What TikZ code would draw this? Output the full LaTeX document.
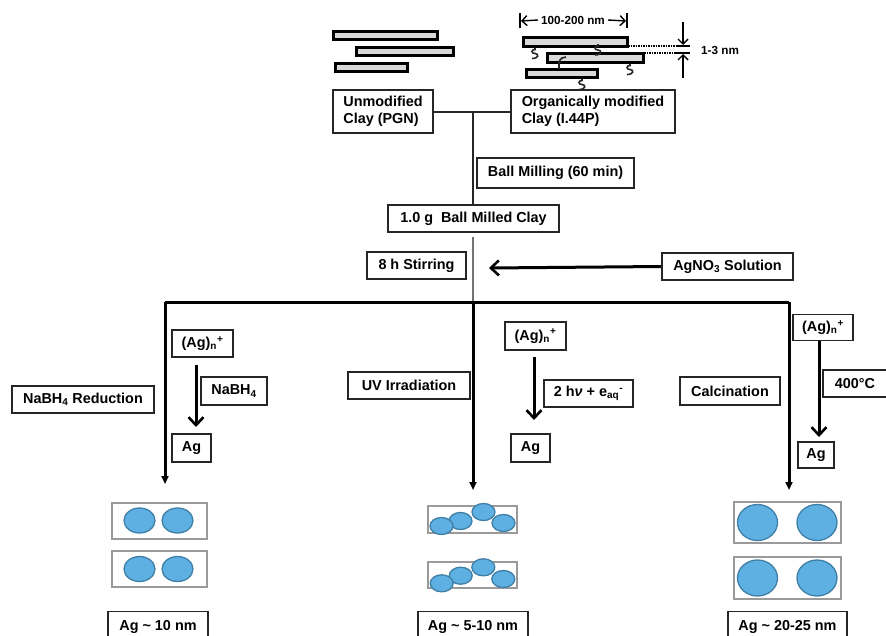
\documentclass[tikz,border=0pt]{standalone}
\usepackage{fontspec}
\setmainfont{Liberation Sans}
\usetikzlibrary{arrows.meta}
\definecolor{agblue}{HTML}{5FB0E2}
\definecolor{agedge}{HTML}{3F7FA6}
\definecolor{holdergray}{HTML}{9A9A9A}
\begin{document}
\begin{tikzpicture}[x=1pt,y=-1pt,
  lbl/.style={draw=black!85, line width=1.8pt, inner sep=0pt, align=center,
    font=\fontsize{14.4}{17}\selectfont\bfseries},
  small/.style={font=\fontsize{11.7}{14}\selectfont\bfseries, inner sep=1pt},
  plate/.style={draw=black, line width=3pt, fill=black!15},
  feed/.style={line width=3pt, -{Triangle[length=8pt,width=7pt]}},
  react/.style={line width=3pt, -{Straight Barb[length=8pt,width=15pt,line width=2.6pt]}},
  dimline/.style={line width=1.5pt},
  dimarrow/.style={line width=1.4pt, -{Straight Barb[length=5pt,width=10pt,line width=1.4pt]}},
  holder/.style={draw=holdergray, line width=1.8pt},
  particle/.style={fill=agblue, draw=agedge, line width=1.3pt},
  surfchain/.pic={\draw[line width=1.6pt, black!85] (0,0) -- (0,2)
      .. controls (-4,2) and (-4,6) .. (0,6)
      .. controls (4,6) and (4,11) .. (-3,11);},
]
\clip (0,0) rectangle (886,635);
\fill[white] (0,0) rectangle (886,635);

% ---- stacked clay platelets ----
\draw[plate] (333,31) rectangle (437,39);
\draw[plate] (356,47) rectangle (453,55);
\draw[plate] (335,63) rectangle (407,71);

\draw[plate] (523,37) rectangle (627,46);
\draw[plate] (547,53) rectangle (643,62);
\draw[plate] (526,69) rectangle (597,77);
\pic at (535,47.5) {surfchain};
\pic at (598,44) {surfchain};
\pic at (630,63.5) {surfchain};
\pic at (582,78.5) {surfchain};
\draw[line width=1.6pt, black!85] (559,62) -- (559,69);
\draw[line width=1.6pt, black!85] (559,63) .. controls (560,58) and (563,57) .. (566,57);

% interlayer spacing
\draw[dimline, densely dotted] (628,46) -- (676,46);
\draw[dimline, densely dotted] (644,53) -- (676,53);
\draw[dimline] (676,46) -- (690,46);
\draw[dimline] (676,53) -- (690,53);
\coordinate (gapTop) at (683,22);
\coordinate (gapTopEnd) at (683,45);
\coordinate (gapBot) at (683,78);
\coordinate (gapBotEnd) at (683,54);
\draw[dimarrow] (gapTop) -- (gapTopEnd);
\draw[dimarrow] (gapBot) -- (gapBotEnd);
\node[small, anchor=west] (gap) at (700,50) {1-3 nm};

% platelet length
\draw[dimline] (520,13) -- (520,28);
\draw[dimline] (627,13) -- (627,28);
\node[small, inner xsep=3pt] (len) at (573,20) {100-200 nm};
\coordinate (lenL) at (521,21);
\coordinate (lenR) at (626,21);
\draw[dimarrow] (len.west) -- (lenL);
\draw[dimarrow] (len.east) -- (lenR);

% ---- process boxes ----
\node[lbl, minimum width=100, minimum height=43, align=left] (unmod) at (383,111.5) {Unmodified\\Clay (PGN)};
\node[lbl, minimum width=164, minimum height=43, align=left] (orgmod) at (593,111.5) {Organically modified\\Clay (I.44P)};
\node[lbl, minimum width=157, minimum height=30] (mill) at (555.5,173) {Ball Milling (60 min)};
\node[lbl, minimum width=171, minimum height=27] (clay) at (473.5,218.5) {1.0 g\ \ Ball Milled Clay};
\node[lbl, minimum width=99, minimum height=27] (stir) at (416.5,265.5) {8 h Stirring};
\node[lbl, minimum width=131, minimum height=27] (agno) at (727.5,266.5) {AgNO\textsubscript{3} Solution};

\coordinate (hub) at (472.5,111.5);
\draw[line width=2pt, black!85] (unmod.east) -- (orgmod.west);
\draw[line width=2pt, black!85] (hub) -- (hub |- clay.north);
\coordinate (stirTop) at (473,237);
\coordinate (busM) at (473,302);
\draw[line width=1.1pt, black!55] (stirTop) -- (busM);
\coordinate (agnoTip) at (489,268);
\draw[react] (agno.west) -- (agnoTip);

% ---- branching bus ----
\coordinate (busL) at (165,302);
\coordinate (busR) at (789,302);
\coordinate (endL) at (165,484);
\coordinate (endM) at (473,490);
\coordinate (endR) at (789,490);
\draw[line width=3pt] (busL) -- (busR);
\draw[feed] (busL) -- (endL);
\draw[feed] (busM) -- (endM);
\draw[feed] (busR) -- (endR);

\node[lbl, minimum width=142, minimum height=27] (redu) at (83,399.5) {NaBH\textsubscript{4} Reduction};
\node[lbl, minimum width=122, minimum height=27] (uv) at (409,385.5) {UV Irradiation};
\node[lbl, minimum width=100, minimum height=28] (calc) at (730,391) {Calcination};

% NaBH4 branch
\node[lbl, minimum width=61, minimum height=27] (agnL) at (202.5,343.5) {(Ag)\textsubscript{n}\textsuperscript{+}};
\node[lbl, minimum width=66, minimum height=28] (redL) at (234,391) {NaBH\textsubscript{4}};
\node[lbl, minimum width=39, minimum height=28] (agL) at (191.5,448) {Ag};
\coordinate (rxL1) at (196,365);
\coordinate (rxL2) at (196,427);
\draw[react] (rxL1) -- (rxL2);

% UV branch
\node[lbl, minimum width=61, minimum height=28] (agnM) at (535.5,336) {(Ag)\textsubscript{n}\textsuperscript{+}};
\node[lbl, minimum width=89, minimum height=27] (hvM) at (588.5,393.5) {2 h{\itshape ν} + e\textsubscript{aq}\textsuperscript{-}};
\node[lbl, minimum width=39, minimum height=28] (agM) at (530.5,448) {Ag};
\coordinate (rxM1) at (534,357);
\coordinate (rxM2) at (534,420);
\draw[react] (rxM1) -- (rxM2);

% calcination branch
\node[lbl, minimum width=60, minimum height=26] (agnR) at (823,327.5) {(Ag)\textsubscript{n}\textsuperscript{+}};
\node[lbl, minimum width=64, minimum height=27] (heatR) at (855,383.5) {400°C};
\node[lbl, minimum width=36, minimum height=26] (agR) at (816,455) {Ag};
\coordinate (rxR1) at (819,341);
\coordinate (rxR2) at (819,437);
\draw[react] (rxR1) -- (rxR2);

% ---- particle sketches ----
\draw[holder] (112,503) rectangle (207,539);
\draw[particle] (139.5,520.5) ellipse [x radius=15.5, y radius=12.5];
\draw[particle] (177.5,520.5) ellipse [x radius=15.5, y radius=12.5];
\draw[holder] (112,551) rectangle (207,587);
\draw[particle] (139.5,569) ellipse [x radius=15.5, y radius=12.5];
\draw[particle] (177.5,569) ellipse [x radius=15.5, y radius=12.5];

\draw[holder] (428,506) rectangle (517,533);
\draw[particle] (460.5,521) ellipse [x radius=11.5, y radius=8.5];
\draw[particle] (441.5,526) ellipse [x radius=11.5, y radius=8.5];
\draw[particle] (483.5,512) ellipse [x radius=11.5, y radius=8.5];
\draw[particle] (503.5,523) ellipse [x radius=11.5, y radius=8.5];
\draw[holder] (428,562) rectangle (517,588);
\draw[particle] (460.7,575.7) ellipse [x radius=11.5, y radius=8.5];
\draw[particle] (441.7,583.3) ellipse [x radius=11.5, y radius=8.5];
\draw[particle] (483.3,567.3) ellipse [x radius=11.5, y radius=8.5];
\draw[particle] (503.3,579) ellipse [x radius=11.5, y radius=8.5];

\draw[holder] (734,502) rectangle (841,543);
\draw[particle] (757.5,522.5) ellipse [x radius=20, y radius=18];
\draw[particle] (817,522.5) ellipse [x radius=20, y radius=18];
\draw[holder] (734,557) rectangle (841,599);
\draw[particle] (757.5,578) ellipse [x radius=20, y radius=18];
\draw[particle] (817,578) ellipse [x radius=20, y radius=18];

% ---- size labels ----
\node[lbl, minimum width=100, minimum height=30] (sizeL) at (158,626.5) {Ag \textasciitilde{} 10 nm};
\node[lbl, minimum width=110, minimum height=30] (sizeM) at (473,626.5) {Ag \textasciitilde{} 5-10 nm};
\node[lbl, minimum width=119, minimum height=30] (sizeR) at (787.5,626.5) {Ag \textasciitilde{} 20-25 nm};
\end{tikzpicture}
\end{document}
